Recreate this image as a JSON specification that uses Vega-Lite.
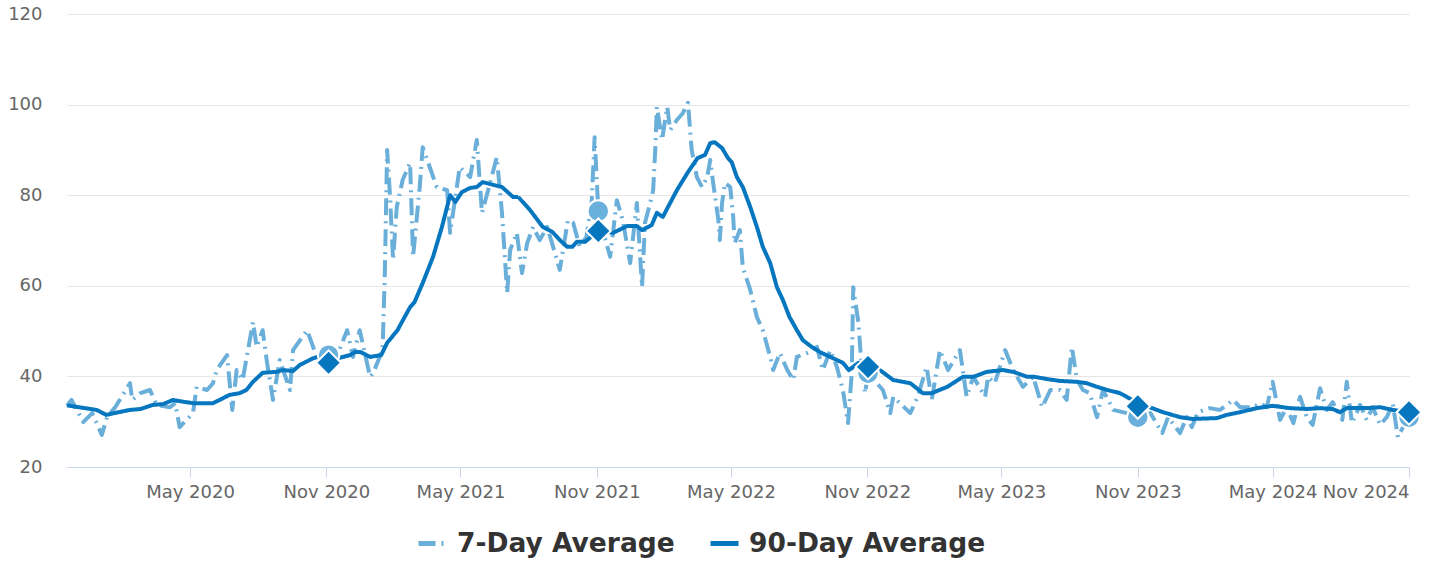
{
  "$schema": "https://vega.github.io/schema/vega-lite/v6.json",
  "width": 1342,
  "height": 453,
  "autosize": {"type": "none"},
  "padding": {"left": 67, "top": 14, "right": 20, "bottom": 96},
  "background": "white",
  "config": {"view": {"stroke": null}, "font": "DejaVu Sans"},
  "datasets": {
    "series": [
      {"date": "2019-11-17", "series": "7-Day Average", "value": 33.5},
      {"date": "2019-11-23", "series": "7-Day Average", "value": 34.8},
      {"date": "2019-12-09", "series": "7-Day Average", "value": 29.9},
      {"date": "2019-12-21", "series": "7-Day Average", "value": 31.9},
      {"date": "2020-01-03", "series": "7-Day Average", "value": 27.1},
      {"date": "2020-01-10", "series": "7-Day Average", "value": 31.0},
      {"date": "2020-01-21", "series": "7-Day Average", "value": 33.2},
      {"date": "2020-02-10", "series": "7-Day Average", "value": 38.5},
      {"date": "2020-02-13", "series": "7-Day Average", "value": 34.8},
      {"date": "2020-02-24", "series": "7-Day Average", "value": 36.3},
      {"date": "2020-03-08", "series": "7-Day Average", "value": 37.0},
      {"date": "2020-03-17", "series": "7-Day Average", "value": 33.7},
      {"date": "2020-04-04", "series": "7-Day Average", "value": 33.2},
      {"date": "2020-04-11", "series": "7-Day Average", "value": 34.1},
      {"date": "2020-04-17", "series": "7-Day Average", "value": 28.8},
      {"date": "2020-05-05", "series": "7-Day Average", "value": 31.9},
      {"date": "2020-05-10", "series": "7-Day Average", "value": 37.7},
      {"date": "2020-05-24", "series": "7-Day Average", "value": 37.0},
      {"date": "2020-06-01", "series": "7-Day Average", "value": 38.5},
      {"date": "2020-06-06", "series": "7-Day Average", "value": 41.4},
      {"date": "2020-06-20", "series": "7-Day Average", "value": 44.7},
      {"date": "2020-06-27", "series": "7-Day Average", "value": 32.6},
      {"date": "2020-07-03", "series": "7-Day Average", "value": 41.4},
      {"date": "2020-07-11", "series": "7-Day Average", "value": 39.2},
      {"date": "2020-07-25", "series": "7-Day Average", "value": 52.0},
      {"date": "2020-07-30", "series": "7-Day Average", "value": 46.5},
      {"date": "2020-08-07", "series": "7-Day Average", "value": 50.2},
      {"date": "2020-08-13", "series": "7-Day Average", "value": 43.0},
      {"date": "2020-08-21", "series": "7-Day Average", "value": 34.8},
      {"date": "2020-08-30", "series": "7-Day Average", "value": 43.6},
      {"date": "2020-09-13", "series": "7-Day Average", "value": 37.0},
      {"date": "2020-09-17", "series": "7-Day Average", "value": 45.8},
      {"date": "2020-10-06", "series": "7-Day Average", "value": 50.2},
      {"date": "2020-10-19", "series": "7-Day Average", "value": 44.3},
      {"date": "2020-11-04", "series": "7-Day Average", "value": 44.7},
      {"date": "2020-11-15", "series": "7-Day Average", "value": 44.3},
      {"date": "2020-11-29", "series": "7-Day Average", "value": 50.2},
      {"date": "2020-12-07", "series": "7-Day Average", "value": 44.3},
      {"date": "2020-12-16", "series": "7-Day Average", "value": 50.2},
      {"date": "2020-12-30", "series": "7-Day Average", "value": 39.9},
      {"date": "2021-01-03", "series": "7-Day Average", "value": 40.7},
      {"date": "2021-01-12", "series": "7-Day Average", "value": 44.3},
      {"date": "2021-01-16", "series": "7-Day Average", "value": 46.5},
      {"date": "2021-01-19", "series": "7-Day Average", "value": 63.5},
      {"date": "2021-01-22", "series": "7-Day Average", "value": 90.0},
      {"date": "2021-01-26", "series": "7-Day Average", "value": 79.6},
      {"date": "2021-01-30", "series": "7-Day Average", "value": 65.7},
      {"date": "2021-02-04", "series": "7-Day Average", "value": 77.4},
      {"date": "2021-02-12", "series": "7-Day Average", "value": 83.4},
      {"date": "2021-02-22", "series": "7-Day Average", "value": 87.1},
      {"date": "2021-02-26", "series": "7-Day Average", "value": 66.4},
      {"date": "2021-03-07", "series": "7-Day Average", "value": 81.8},
      {"date": "2021-03-11", "series": "7-Day Average", "value": 90.6},
      {"date": "2021-03-30", "series": "7-Day Average", "value": 81.8},
      {"date": "2021-04-13", "series": "7-Day Average", "value": 81.1},
      {"date": "2021-04-17", "series": "7-Day Average", "value": 71.7},
      {"date": "2021-04-30", "series": "7-Day Average", "value": 86.2},
      {"date": "2021-05-14", "series": "7-Day Average", "value": 84.0},
      {"date": "2021-05-23", "series": "7-Day Average", "value": 92.2},
      {"date": "2021-05-30", "series": "7-Day Average", "value": 76.1},
      {"date": "2021-06-10", "series": "7-Day Average", "value": 82.7},
      {"date": "2021-06-19", "series": "7-Day Average", "value": 88.4},
      {"date": "2021-06-26", "series": "7-Day Average", "value": 76.1},
      {"date": "2021-07-03", "series": "7-Day Average", "value": 58.4},
      {"date": "2021-07-07", "series": "7-Day Average", "value": 67.9},
      {"date": "2021-07-16", "series": "7-Day Average", "value": 71.7},
      {"date": "2021-07-23", "series": "7-Day Average", "value": 62.8},
      {"date": "2021-07-30", "series": "7-Day Average", "value": 69.4},
      {"date": "2021-08-07", "series": "7-Day Average", "value": 73.0},
      {"date": "2021-08-16", "series": "7-Day Average", "value": 70.1},
      {"date": "2021-08-26", "series": "7-Day Average", "value": 73.0},
      {"date": "2021-09-03", "series": "7-Day Average", "value": 68.6},
      {"date": "2021-09-12", "series": "7-Day Average", "value": 63.5},
      {"date": "2021-09-23", "series": "7-Day Average", "value": 74.5},
      {"date": "2021-09-30", "series": "7-Day Average", "value": 73.9},
      {"date": "2021-10-09", "series": "7-Day Average", "value": 68.6},
      {"date": "2021-10-18", "series": "7-Day Average", "value": 70.8},
      {"date": "2021-10-25", "series": "7-Day Average", "value": 78.3},
      {"date": "2021-10-29", "series": "7-Day Average", "value": 92.8},
      {"date": "2021-11-03", "series": "7-Day Average", "value": 76.5},
      {"date": "2021-11-09", "series": "7-Day Average", "value": 72.3},
      {"date": "2021-11-19", "series": "7-Day Average", "value": 66.4},
      {"date": "2021-11-28", "series": "7-Day Average", "value": 78.9},
      {"date": "2021-12-06", "series": "7-Day Average", "value": 74.5},
      {"date": "2021-12-16", "series": "7-Day Average", "value": 65.0},
      {"date": "2021-12-25", "series": "7-Day Average", "value": 78.3},
      {"date": "2022-01-01", "series": "7-Day Average", "value": 59.7},
      {"date": "2022-01-05", "series": "7-Day Average", "value": 73.9},
      {"date": "2022-01-12", "series": "7-Day Average", "value": 78.3},
      {"date": "2022-01-16", "series": "7-Day Average", "value": 81.1},
      {"date": "2022-01-19", "series": "7-Day Average", "value": 90.6},
      {"date": "2022-01-21", "series": "7-Day Average", "value": 99.5},
      {"date": "2022-01-28", "series": "7-Day Average", "value": 92.2},
      {"date": "2022-02-04", "series": "7-Day Average", "value": 99.5},
      {"date": "2022-02-08", "series": "7-Day Average", "value": 94.4},
      {"date": "2022-02-17", "series": "7-Day Average", "value": 96.6},
      {"date": "2022-02-25", "series": "7-Day Average", "value": 98.1},
      {"date": "2022-03-04", "series": "7-Day Average", "value": 100.4},
      {"date": "2022-03-09", "series": "7-Day Average", "value": 90.0},
      {"date": "2022-03-16", "series": "7-Day Average", "value": 84.0},
      {"date": "2022-03-23", "series": "7-Day Average", "value": 81.8},
      {"date": "2022-03-30", "series": "7-Day Average", "value": 84.0},
      {"date": "2022-04-03", "series": "7-Day Average", "value": 87.8},
      {"date": "2022-04-07", "series": "7-Day Average", "value": 82.7},
      {"date": "2022-04-14", "series": "7-Day Average", "value": 74.5},
      {"date": "2022-04-16", "series": "7-Day Average", "value": 70.1},
      {"date": "2022-04-19", "series": "7-Day Average", "value": 78.3},
      {"date": "2022-04-23", "series": "7-Day Average", "value": 82.7},
      {"date": "2022-04-30", "series": "7-Day Average", "value": 81.8},
      {"date": "2022-05-04", "series": "7-Day Average", "value": 75.2},
      {"date": "2022-05-06", "series": "7-Day Average", "value": 69.4},
      {"date": "2022-05-13", "series": "7-Day Average", "value": 72.3},
      {"date": "2022-05-17", "series": "7-Day Average", "value": 64.1},
      {"date": "2022-05-27", "series": "7-Day Average", "value": 59.1},
      {"date": "2022-06-05", "series": "7-Day Average", "value": 53.1},
      {"date": "2022-06-13", "series": "7-Day Average", "value": 50.2},
      {"date": "2022-06-23", "series": "7-Day Average", "value": 44.3},
      {"date": "2022-06-27", "series": "7-Day Average", "value": 41.4},
      {"date": "2022-07-06", "series": "7-Day Average", "value": 45.2},
      {"date": "2022-07-16", "series": "7-Day Average", "value": 41.4},
      {"date": "2022-07-24", "series": "7-Day Average", "value": 39.2},
      {"date": "2022-07-29", "series": "7-Day Average", "value": 44.3},
      {"date": "2022-08-12", "series": "7-Day Average", "value": 45.2},
      {"date": "2022-08-25", "series": "7-Day Average", "value": 46.5},
      {"date": "2022-09-02", "series": "7-Day Average", "value": 41.4},
      {"date": "2022-09-12", "series": "7-Day Average", "value": 45.8},
      {"date": "2022-09-21", "series": "7-Day Average", "value": 42.1},
      {"date": "2022-09-29", "series": "7-Day Average", "value": 37.0},
      {"date": "2022-10-06", "series": "7-Day Average", "value": 29.7},
      {"date": "2022-10-11", "series": "7-Day Average", "value": 40.7},
      {"date": "2022-10-13", "series": "7-Day Average", "value": 59.7},
      {"date": "2022-10-20", "series": "7-Day Average", "value": 51.8},
      {"date": "2022-10-23", "series": "7-Day Average", "value": 45.0},
      {"date": "2022-10-29", "series": "7-Day Average", "value": 36.3},
      {"date": "2022-11-02", "series": "7-Day Average", "value": 40.7},
      {"date": "2022-11-22", "series": "7-Day Average", "value": 37.0},
      {"date": "2022-12-02", "series": "7-Day Average", "value": 31.9},
      {"date": "2022-12-06", "series": "7-Day Average", "value": 35.5},
      {"date": "2022-12-29", "series": "7-Day Average", "value": 31.9},
      {"date": "2023-01-08", "series": "7-Day Average", "value": 35.5},
      {"date": "2023-01-20", "series": "7-Day Average", "value": 42.1},
      {"date": "2023-01-27", "series": "7-Day Average", "value": 34.8},
      {"date": "2023-02-07", "series": "7-Day Average", "value": 45.8},
      {"date": "2023-02-18", "series": "7-Day Average", "value": 41.4},
      {"date": "2023-03-06", "series": "7-Day Average", "value": 45.8},
      {"date": "2023-03-15", "series": "7-Day Average", "value": 35.5},
      {"date": "2023-03-24", "series": "7-Day Average", "value": 39.9},
      {"date": "2023-04-09", "series": "7-Day Average", "value": 35.5},
      {"date": "2023-04-13", "series": "7-Day Average", "value": 39.9},
      {"date": "2023-04-22", "series": "7-Day Average", "value": 38.5},
      {"date": "2023-05-06", "series": "7-Day Average", "value": 45.8},
      {"date": "2023-05-17", "series": "7-Day Average", "value": 41.4},
      {"date": "2023-05-30", "series": "7-Day Average", "value": 37.7},
      {"date": "2023-06-13", "series": "7-Day Average", "value": 39.9},
      {"date": "2023-06-25", "series": "7-Day Average", "value": 33.2},
      {"date": "2023-07-06", "series": "7-Day Average", "value": 37.0},
      {"date": "2023-07-19", "series": "7-Day Average", "value": 37.0},
      {"date": "2023-07-28", "series": "7-Day Average", "value": 34.8},
      {"date": "2023-08-04", "series": "7-Day Average", "value": 46.5},
      {"date": "2023-08-11", "series": "7-Day Average", "value": 39.2},
      {"date": "2023-08-19", "series": "7-Day Average", "value": 37.0},
      {"date": "2023-08-28", "series": "7-Day Average", "value": 36.3},
      {"date": "2023-09-07", "series": "7-Day Average", "value": 31.0},
      {"date": "2023-09-15", "series": "7-Day Average", "value": 37.0},
      {"date": "2023-09-29", "series": "7-Day Average", "value": 32.6},
      {"date": "2023-10-17", "series": "7-Day Average", "value": 31.9},
      {"date": "2023-11-01", "series": "7-Day Average", "value": 31.0},
      {"date": "2023-11-18", "series": "7-Day Average", "value": 31.9},
      {"date": "2023-12-04", "series": "7-Day Average", "value": 27.5},
      {"date": "2023-12-12", "series": "7-Day Average", "value": 31.0},
      {"date": "2023-12-28", "series": "7-Day Average", "value": 27.5},
      {"date": "2024-01-06", "series": "7-Day Average", "value": 31.0},
      {"date": "2024-01-13", "series": "7-Day Average", "value": 28.8},
      {"date": "2024-01-21", "series": "7-Day Average", "value": 32.1},
      {"date": "2024-02-06", "series": "7-Day Average", "value": 33.0},
      {"date": "2024-02-20", "series": "7-Day Average", "value": 32.6},
      {"date": "2024-03-09", "series": "7-Day Average", "value": 34.8},
      {"date": "2024-03-18", "series": "7-Day Average", "value": 33.2},
      {"date": "2024-04-05", "series": "7-Day Average", "value": 33.2},
      {"date": "2024-04-14", "series": "7-Day Average", "value": 34.1},
      {"date": "2024-04-23", "series": "7-Day Average", "value": 33.2},
      {"date": "2024-05-01", "series": "7-Day Average", "value": 38.8},
      {"date": "2024-05-11", "series": "7-Day Average", "value": 30.4},
      {"date": "2024-05-20", "series": "7-Day Average", "value": 33.2},
      {"date": "2024-05-29", "series": "7-Day Average", "value": 29.7},
      {"date": "2024-06-07", "series": "7-Day Average", "value": 35.5},
      {"date": "2024-06-16", "series": "7-Day Average", "value": 31.0},
      {"date": "2024-06-24", "series": "7-Day Average", "value": 29.3},
      {"date": "2024-07-04", "series": "7-Day Average", "value": 37.4},
      {"date": "2024-07-13", "series": "7-Day Average", "value": 32.6},
      {"date": "2024-07-21", "series": "7-Day Average", "value": 34.3},
      {"date": "2024-08-03", "series": "7-Day Average", "value": 30.4},
      {"date": "2024-08-09", "series": "7-Day Average", "value": 38.8},
      {"date": "2024-08-16", "series": "7-Day Average", "value": 29.7},
      {"date": "2024-08-27", "series": "7-Day Average", "value": 33.7},
      {"date": "2024-09-05", "series": "7-Day Average", "value": 30.4},
      {"date": "2024-09-13", "series": "7-Day Average", "value": 33.2},
      {"date": "2024-09-23", "series": "7-Day Average", "value": 29.3},
      {"date": "2024-10-02", "series": "7-Day Average", "value": 31.0},
      {"date": "2024-10-10", "series": "7-Day Average", "value": 34.1},
      {"date": "2024-10-17", "series": "7-Day Average", "value": 26.6},
      {"date": "2024-10-24", "series": "7-Day Average", "value": 28.8},
      {"date": "2024-11-01", "series": "7-Day Average", "value": 31.0},
      {"date": "2019-11-17", "series": "90-Day Average", "value": 33.6},
      {"date": "2019-12-27", "series": "90-Day Average", "value": 32.6},
      {"date": "2020-01-09", "series": "90-Day Average", "value": 31.5},
      {"date": "2020-01-20", "series": "90-Day Average", "value": 31.9},
      {"date": "2020-02-10", "series": "90-Day Average", "value": 32.6},
      {"date": "2020-02-24", "series": "90-Day Average", "value": 32.8},
      {"date": "2020-03-12", "series": "90-Day Average", "value": 33.7},
      {"date": "2020-03-26", "series": "90-Day Average", "value": 33.9},
      {"date": "2020-04-08", "series": "90-Day Average", "value": 34.8},
      {"date": "2020-04-22", "series": "90-Day Average", "value": 34.4},
      {"date": "2020-05-05", "series": "90-Day Average", "value": 34.1},
      {"date": "2020-06-01", "series": "90-Day Average", "value": 34.1},
      {"date": "2020-06-10", "series": "90-Day Average", "value": 34.8},
      {"date": "2020-06-23", "series": "90-Day Average", "value": 35.9},
      {"date": "2020-07-07", "series": "90-Day Average", "value": 36.3},
      {"date": "2020-07-16", "series": "90-Day Average", "value": 37.0},
      {"date": "2020-07-25", "series": "90-Day Average", "value": 38.8},
      {"date": "2020-08-07", "series": "90-Day Average", "value": 40.8},
      {"date": "2020-08-26", "series": "90-Day Average", "value": 41.0},
      {"date": "2020-09-03", "series": "90-Day Average", "value": 41.4},
      {"date": "2020-09-17", "series": "90-Day Average", "value": 41.2},
      {"date": "2020-09-26", "series": "90-Day Average", "value": 42.5},
      {"date": "2020-10-14", "series": "90-Day Average", "value": 44.0},
      {"date": "2020-10-21", "series": "90-Day Average", "value": 44.3},
      {"date": "2020-11-04", "series": "90-Day Average", "value": 43.6},
      {"date": "2020-11-16", "series": "90-Day Average", "value": 44.0},
      {"date": "2020-12-03", "series": "90-Day Average", "value": 44.7},
      {"date": "2020-12-10", "series": "90-Day Average", "value": 45.4},
      {"date": "2020-12-17", "series": "90-Day Average", "value": 45.4},
      {"date": "2020-12-30", "series": "90-Day Average", "value": 44.3},
      {"date": "2021-01-14", "series": "90-Day Average", "value": 44.7},
      {"date": "2021-01-22", "series": "90-Day Average", "value": 47.4},
      {"date": "2021-02-05", "series": "90-Day Average", "value": 50.2},
      {"date": "2021-02-22", "series": "90-Day Average", "value": 55.3},
      {"date": "2021-02-28", "series": "90-Day Average", "value": 56.4},
      {"date": "2021-03-11", "series": "90-Day Average", "value": 60.6},
      {"date": "2021-03-25", "series": "90-Day Average", "value": 66.4},
      {"date": "2021-04-06", "series": "90-Day Average", "value": 73.0},
      {"date": "2021-04-17", "series": "90-Day Average", "value": 80.0},
      {"date": "2021-04-24", "series": "90-Day Average", "value": 78.5},
      {"date": "2021-05-03", "series": "90-Day Average", "value": 80.7},
      {"date": "2021-05-14", "series": "90-Day Average", "value": 81.6},
      {"date": "2021-05-23", "series": "90-Day Average", "value": 81.8},
      {"date": "2021-05-31", "series": "90-Day Average", "value": 82.9},
      {"date": "2021-06-14", "series": "90-Day Average", "value": 82.3},
      {"date": "2021-06-26", "series": "90-Day Average", "value": 81.8},
      {"date": "2021-07-11", "series": "90-Day Average", "value": 79.6},
      {"date": "2021-07-18", "series": "90-Day Average", "value": 79.6},
      {"date": "2021-08-03", "series": "90-Day Average", "value": 76.7},
      {"date": "2021-08-20", "series": "90-Day Average", "value": 73.0},
      {"date": "2021-09-02", "series": "90-Day Average", "value": 71.9},
      {"date": "2021-09-12", "series": "90-Day Average", "value": 70.1},
      {"date": "2021-09-22", "series": "90-Day Average", "value": 68.6},
      {"date": "2021-09-29", "series": "90-Day Average", "value": 68.6},
      {"date": "2021-10-05", "series": "90-Day Average", "value": 69.7},
      {"date": "2021-10-16", "series": "90-Day Average", "value": 69.7},
      {"date": "2021-11-03", "series": "90-Day Average", "value": 72.1},
      {"date": "2021-11-23", "series": "90-Day Average", "value": 71.7},
      {"date": "2021-12-12", "series": "90-Day Average", "value": 73.2},
      {"date": "2021-12-25", "series": "90-Day Average", "value": 73.2},
      {"date": "2022-01-01", "series": "90-Day Average", "value": 72.3},
      {"date": "2022-01-14", "series": "90-Day Average", "value": 73.4},
      {"date": "2022-01-21", "series": "90-Day Average", "value": 76.1},
      {"date": "2022-01-29", "series": "90-Day Average", "value": 75.2},
      {"date": "2022-02-17", "series": "90-Day Average", "value": 81.1},
      {"date": "2022-03-04", "series": "90-Day Average", "value": 85.1},
      {"date": "2022-03-17", "series": "90-Day Average", "value": 88.2},
      {"date": "2022-03-27", "series": "90-Day Average", "value": 88.9},
      {"date": "2022-04-03", "series": "90-Day Average", "value": 91.5},
      {"date": "2022-04-09", "series": "90-Day Average", "value": 91.7},
      {"date": "2022-04-19", "series": "90-Day Average", "value": 90.4},
      {"date": "2022-04-27", "series": "90-Day Average", "value": 88.2},
      {"date": "2022-05-02", "series": "90-Day Average", "value": 87.3},
      {"date": "2022-05-09", "series": "90-Day Average", "value": 84.0},
      {"date": "2022-05-17", "series": "90-Day Average", "value": 81.8},
      {"date": "2022-05-27", "series": "90-Day Average", "value": 77.4},
      {"date": "2022-06-05", "series": "90-Day Average", "value": 73.0},
      {"date": "2022-06-13", "series": "90-Day Average", "value": 68.6},
      {"date": "2022-06-23", "series": "90-Day Average", "value": 65.0},
      {"date": "2022-07-02", "series": "90-Day Average", "value": 59.7},
      {"date": "2022-07-10", "series": "90-Day Average", "value": 56.9},
      {"date": "2022-07-19", "series": "90-Day Average", "value": 53.1},
      {"date": "2022-07-29", "series": "90-Day Average", "value": 50.2},
      {"date": "2022-08-06", "series": "90-Day Average", "value": 48.0},
      {"date": "2022-08-18", "series": "90-Day Average", "value": 46.5},
      {"date": "2022-08-31", "series": "90-Day Average", "value": 45.2},
      {"date": "2022-09-12", "series": "90-Day Average", "value": 44.3},
      {"date": "2022-09-29", "series": "90-Day Average", "value": 43.0},
      {"date": "2022-10-07", "series": "90-Day Average", "value": 41.4},
      {"date": "2022-10-20", "series": "90-Day Average", "value": 43.0},
      {"date": "2022-11-02", "series": "90-Day Average", "value": 42.1},
      {"date": "2022-11-18", "series": "90-Day Average", "value": 41.4},
      {"date": "2022-12-06", "series": "90-Day Average", "value": 39.2},
      {"date": "2022-12-29", "series": "90-Day Average", "value": 38.5},
      {"date": "2023-01-15", "series": "90-Day Average", "value": 36.3},
      {"date": "2023-01-27", "series": "90-Day Average", "value": 36.3},
      {"date": "2023-02-17", "series": "90-Day Average", "value": 37.7},
      {"date": "2023-03-10", "series": "90-Day Average", "value": 39.9},
      {"date": "2023-03-24", "series": "90-Day Average", "value": 39.9},
      {"date": "2023-04-11", "series": "90-Day Average", "value": 41.0},
      {"date": "2023-05-03", "series": "90-Day Average", "value": 41.4},
      {"date": "2023-05-17", "series": "90-Day Average", "value": 41.0},
      {"date": "2023-06-05", "series": "90-Day Average", "value": 39.9},
      {"date": "2023-06-15", "series": "90-Day Average", "value": 39.9},
      {"date": "2023-07-02", "series": "90-Day Average", "value": 39.4},
      {"date": "2023-07-19", "series": "90-Day Average", "value": 39.0},
      {"date": "2023-08-11", "series": "90-Day Average", "value": 38.8},
      {"date": "2023-08-24", "series": "90-Day Average", "value": 38.5},
      {"date": "2023-09-07", "series": "90-Day Average", "value": 37.7},
      {"date": "2023-09-21", "series": "90-Day Average", "value": 37.0},
      {"date": "2023-10-08", "series": "90-Day Average", "value": 36.3},
      {"date": "2023-10-20", "series": "90-Day Average", "value": 35.2},
      {"date": "2023-11-01", "series": "90-Day Average", "value": 34.2},
      {"date": "2023-11-17", "series": "90-Day Average", "value": 33.2},
      {"date": "2023-12-05", "series": "90-Day Average", "value": 32.1},
      {"date": "2023-12-28", "series": "90-Day Average", "value": 31.0},
      {"date": "2024-01-14", "series": "90-Day Average", "value": 30.6},
      {"date": "2024-02-16", "series": "90-Day Average", "value": 30.8},
      {"date": "2024-02-29", "series": "90-Day Average", "value": 31.5},
      {"date": "2024-03-18", "series": "90-Day Average", "value": 32.1},
      {"date": "2024-04-10", "series": "90-Day Average", "value": 33.0},
      {"date": "2024-05-01", "series": "90-Day Average", "value": 33.5},
      {"date": "2024-05-24", "series": "90-Day Average", "value": 33.0},
      {"date": "2024-06-16", "series": "90-Day Average", "value": 32.8},
      {"date": "2024-07-04", "series": "90-Day Average", "value": 33.0},
      {"date": "2024-07-21", "series": "90-Day Average", "value": 32.8},
      {"date": "2024-07-31", "series": "90-Day Average", "value": 32.1},
      {"date": "2024-08-09", "series": "90-Day Average", "value": 33.0},
      {"date": "2024-09-05", "series": "90-Day Average", "value": 33.0},
      {"date": "2024-09-23", "series": "90-Day Average", "value": 33.2},
      {"date": "2024-10-10", "series": "90-Day Average", "value": 32.6},
      {"date": "2024-11-01", "series": "90-Day Average", "value": 32.1}
    ],
    "markers": [
      {"date": "2020-11-04", "series": "7-Day Average", "value": 44.7},
      {"date": "2021-11-03", "series": "7-Day Average", "value": 76.5},
      {"date": "2022-11-02", "series": "7-Day Average", "value": 40.7},
      {"date": "2023-11-01", "series": "7-Day Average", "value": 31.0},
      {"date": "2024-11-01", "series": "7-Day Average", "value": 31.0},
      {"date": "2020-11-04", "series": "90-Day Average", "value": 43.0},
      {"date": "2021-11-03", "series": "90-Day Average", "value": 72.1},
      {"date": "2022-11-02", "series": "90-Day Average", "value": 42.1},
      {"date": "2023-11-01", "series": "90-Day Average", "value": 33.4},
      {"date": "2024-11-01", "series": "90-Day Average", "value": 32.1}
    ]
  },
  "encoding": {
    "x": {
      "field": "date",
      "type": "temporal",
      "scale": {
        "type": "utc",
        "domain": [
          {"year": 2019, "month": 11, "date": 17, "utc": true},
          {"year": 2024, "month": 11, "date": 1, "utc": true}
        ]
      },
      "axis": {
        "title": null,
        "format": "%b %Y",
        "values": [
          {"year": 2020, "month": 5, "date": 1, "utc": true},
          {"year": 2020, "month": 11, "date": 1, "utc": true},
          {"year": 2021, "month": 5, "date": 1, "utc": true},
          {"year": 2021, "month": 11, "date": 1, "utc": true},
          {"year": 2022, "month": 5, "date": 1, "utc": true},
          {"year": 2022, "month": 11, "date": 1, "utc": true},
          {"year": 2023, "month": 5, "date": 1, "utc": true},
          {"year": 2023, "month": 11, "date": 1, "utc": true},
          {"year": 2024, "month": 5, "date": 1, "utc": true},
          {"year": 2024, "month": 11, "date": 1, "utc": true}
        ],
        "grid": false,
        "domainColor": "#ccd6eb",
        "domainWidth": 1,
        "tickColor": "#ccd6eb",
        "tickSize": 10,
        "labelPadding": 6,
        "labelFontSize": 18,
        "labelColor": "#666666",
        "labelFlush": true,
        "labelOverlap": false
      }
    },
    "y": {
      "field": "value",
      "type": "quantitative",
      "scale": {"domain": [20, 120], "nice": false, "zero": false},
      "axis": {
        "title": null,
        "values": [20, 40, 60, 80, 100, 120],
        "grid": true,
        "gridColor": "#e6e6e6",
        "domain": false,
        "ticks": false,
        "tickSize": 0,
        "labelPadding": 25,
        "labelFontSize": 18,
        "labelColor": "#666666"
      }
    }
  },
  "layer": [
    {
      "data": {"name": "series"},
      "mark": {"type": "line", "strokeWidth": 4, "strokeCap": "butt", "strokeJoin": "round"},
      "encoding": {
        "color": {
          "field": "series",
          "type": "nominal",
          "scale": {"domain": ["7-Day Average", "90-Day Average"], "range": ["#6aafda", "#0676bf"]},
          "legend": {
            "title": null,
            "orient": "none",
            "legendX": 349,
            "legendY": 513,
            "direction": "horizontal",
            "symbolType": "stroke",
            "symbolStrokeWidth": 5,
            "symbolSize": 784,
            "labelFontSize": 26.5,
            "labelFontWeight": "bold",
            "labelColor": "#333333",
            "labelOffset": 8,
            "labelLimit": 0,
            "columnPadding": 25
          }
        },
        "strokeDash": {
          "field": "series",
          "type": "nominal",
          "scale": {"domain": ["7-Day Average", "90-Day Average"], "range": [[17, 6, 2, 6], [1, 0]]},
          "legend": {
            "title": null,
            "orient": "none",
            "legendX": 349,
            "legendY": 513,
            "direction": "horizontal",
            "symbolType": "stroke",
            "symbolStrokeWidth": 5,
            "symbolSize": 784,
            "labelFontSize": 26.5,
            "labelFontWeight": "bold",
            "labelColor": "#333333",
            "labelOffset": 8,
            "labelLimit": 0,
            "columnPadding": 25
          }
        }
      }
    },
    {
      "data": {"name": "markers"},
      "transform": [{"filter": "datum.series == '7-Day Average'"}],
      "mark": {"type": "point", "shape": "circle", "filled": true, "fill": "#6ab0dc", "stroke": "white", "strokeWidth": 2, "size": 460, "opacity": 1}
    },
    {
      "data": {"name": "markers"},
      "transform": [{"filter": "datum.series == '90-Day Average'"}],
      "mark": {"type": "point", "shape": "diamond", "filled": true, "fill": "#0676bf", "stroke": "white", "strokeWidth": 2, "size": 620, "opacity": 1}
    }
  ]
}
